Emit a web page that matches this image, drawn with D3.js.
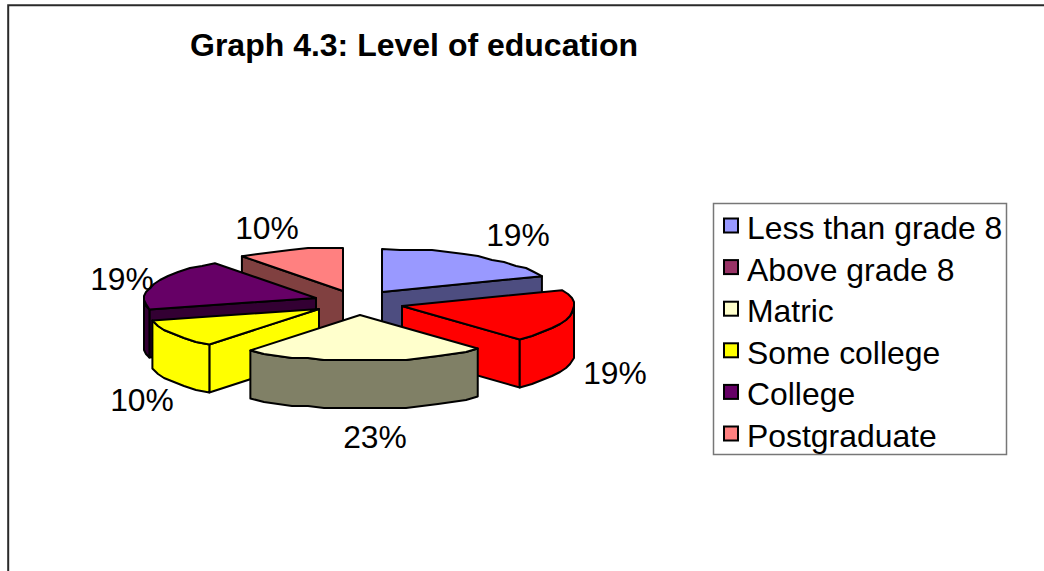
<!DOCTYPE html>
<html><head><meta charset="utf-8">
<script src="https://cdn.jsdelivr.net/npm/d3@7"></script>
<style>html,body{margin:0;padding:0;background:#fff}svg{display:block}text{font-family:"Liberation Sans",Arial,sans-serif;fill:#000}</style>
</head><body><svg id="c" width="1044" height="571"></svg>
<script>
const categories = ["Less than grade 8","Above grade 8","Matric","Some college","College","Postgraduate"];
const values = [19,19,23,10,19,10];
const title = "Graph 4.3: Level of education";

// styles and layout, kept apart from the data
const topColors = ["#9999FF","#993366","#FFFFCC","#FFFF00","#660066","#FF8080"];
const pieTopColors = ["#9999FF","#FF0000","#FFFFCC","#FFFF00","#660066","#FF8080"];
const wallColors = ["#4D4D80","#FF0000","#808066","#FFFF00","#330033","#804040"];
const apexes = [[382,292],[402,306],[360,315],[319,309],[316,298],[343,291]];
const labelPos = [[518,246],[615,384],[375,448],[142,411],[122,290],[267,239]];
const drawOrder = [5,0,4,1,3,2];
const RX=172, RY_BACK=43, RY_FRONT=46, DEPTH=48, TAU=Math.PI*2;

const svg = d3.select("#c");
svg.append("path").attr("d","M8.2,571V5.2H1044").attr("fill","none").attr("stroke","#2a2a2a").attr("stroke-width",2);
svg.append("text").attr("x",190).attr("y",56).attr("font-size",32).attr("font-weight","bold").text(title);

const arcs = d3.pie().sort(null).startAngle(0).endAngle(TAU)(values);
const line = d3.line();
const rough = v => Math.round(v/2)*2;
function pt(i,a){const [ax,ay]=apexes[i],c=Math.cos(a);return [ax+RX*Math.sin(a), ay-(c>0?RY_BACK:RY_FRONT)*c];}
function arcPts(i,a0,a1,dz){
  const n=Math.max(2,Math.round((a1-a0)/(TAU/64))),out=[];
  for(let k=0;k<=n;k++){
    const p=pt(i,a0+(a1-a0)*k/n);
    const q=(k==0||k==n)?p:[rough(p[0]),rough(p[1])];
    out.push([q[0],q[1]+dz]);
  }
  return out;
}
const face=(pts,fill)=>svg.append("path").attr("d",line(pts)+"Z").attr("fill",fill)
  .attr("stroke","#000").attr("stroke-width",2).attr("stroke-linejoin","round");

drawOrder.forEach(i=>{
  const a=arcs[i], s=a.startAngle, e=a.endAngle, A=apexes[i];
  if(e>0.01 && e<Math.PI){const p=pt(i,e);face([A,p,[p[0],p[1]+DEPTH],[A[0],A[1]+DEPTH]],wallColors[i]);}
  if(s>Math.PI && s<TAU-0.01){const p=pt(i,s);face([A,p,[p[0],p[1]+DEPTH],[A[0],A[1]+DEPTH]],wallColors[i]);}
  const w0=Math.max(s,Math.PI/2), w1=Math.min(e,Math.PI*1.5);
  if(w1>w0){
    const t=arcPts(i,w0,w1,0), b=arcPts(i,w0,w1,DEPTH).reverse();
    face(t.concat(b),wallColors[i]);
  }
  face([A].concat(arcPts(i,s,e,0)),pieTopColors[i]);
});

svg.selectAll("text.lab").data(arcs).join("text").attr("class","lab")
  .attr("x",(d,i)=>labelPos[i][0]).attr("y",(d,i)=>labelPos[i][1])
  .attr("text-anchor","middle").attr("font-size",31.8).text(d=>d.value+"%");

svg.append("rect").attr("x",713.5).attr("y",203.5).attr("width",293).attr("height",251)
  .attr("fill","#fff").attr("stroke","#777").attr("stroke-width",1.5);
const rowY=d3.scalePoint().domain(categories).range([239,447]);
const row=svg.selectAll("g.row").data(categories).join("g").attr("class","row");
row.append("rect").attr("x",724).attr("y",d=>rowY(d)-20.5).attr("width",14).attr("height",14)
  .attr("fill",(d,i)=>topColors[i]).attr("stroke","#000").attr("stroke-width",2);
row.append("text").attr("x",747).attr("y",d=>rowY(d)).attr("font-size",31.9).text(d=>d);
</script></body></html>
